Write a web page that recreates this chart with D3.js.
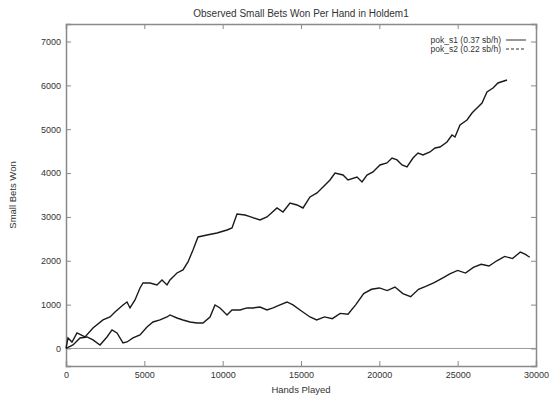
<!DOCTYPE html>
<html><head><meta charset="utf-8">
<script src="https://cdn.jsdelivr.net/npm/d3@7/dist/d3.min.js"></script>
<style>body{margin:0;background:#fff}svg{display:block}text{font-family:"Liberation Sans",Arial,sans-serif;fill:#333}</style>
</head><body><svg id="c" width="551" height="396"></svg>
<script>
const titleText = "Observed Small Bets Won Per Hand in Holdem1";
const xLabel = "Hands Played";
const yLabel = "Small Bets Won";
const xTicks = [0, 5000, 10000, 15000, 20000, 25000, 30000];
const yTicks = [0, 1000, 2000, 3000, 4000, 5000, 6000, 7000];
const seriesNames = ["pok_s1 (0.37 sb/h)", "pok_s2 (0.22 sb/h)"];
const s1Hands = [0,128,383,702,1213,1723,2361,2809,3128,3638,3894,4085,4404,4724,4915,5362,5808,6128,6447,6638,7085,7468,7787,8106,8426,9000,9638,10277,10596,10915,11426,11745,12383,12830,13468,13851,14298,14745,15128,15575,16022,16405,16851,17170,17681,18000,18575,18894,19213,19596,20043,20489,20809,21128,21447,21766,22149,22468,22787,23234,23553,23872,24319,24638,24830,25149,25596,25915,26234,26553,26872,27255,27574,28149];
const s1Won = [0,240,148,353,262,467,650,718,832,992,1060,924,1106,1380,1494,1494,1448,1562,1448,1562,1722,1790,1973,2246,2543,2588,2634,2702,2748,3067,3044,3006,2930,2999,3204,3113,3318,3273,3204,3455,3546,3683,3842,4002,3956,3842,3911,3797,3956,4025,4185,4230,4344,4299,4185,4139,4344,4458,4413,4481,4572,4595,4709,4869,4823,5097,5211,5370,5484,5598,5849,5941,6055,6123];
const s2Hands = [0,447,894,1340,1723,2170,2617,2936,3255,3638,3894,4277,4723,5170,5553,6000,6447,6638,7085,7468,7915,8362,8745,9191,9511,9830,10277,10596,11106,11553,11936,12383,12830,13213,13660,14106,14489,14936,15575,16000,16500,17000,17500,18000,18500,19000,19500,20000,20500,21000,21500,22000,22500,23000,23500,24000,24500,25000,25500,26000,26500,27000,27500,28000,28500,29000,29300,29600];
const s2Won = [0,80,239,262,194,80,262,422,353,125,148,239,308,490,604,650,718,764,695,650,604,581,581,718,992,924,764,878,878,924,924,946,878,924,992,1060,992,878,718,650,720,680,800,780,1000,1250,1350,1380,1320,1400,1250,1180,1350,1420,1500,1600,1700,1780,1720,1850,1920,1880,2000,2100,2050,2200,2150,2080];

const svg = d3.select("#c");
const L = 66, R = 536, T = 24, B = 366;
const x = d3.scaleLinear().domain([0, 30000]).range([L, R]);
const y = d3.scaleLinear().domain([-400, 7400]).range([B, T]);
const frame = "#8a8a8a";

svg.append("text").attr("x", (L+R)/2).attr("y", 17).attr("text-anchor","middle").attr("font-size",10).text(titleText);
svg.append("text").attr("x", (L+R)/2).attr("y", 393).attr("text-anchor","middle").attr("font-size",9.5).text(xLabel);
svg.append("text").attr("transform","translate(16,"+((T+B)/2)+") rotate(-90)").attr("text-anchor","middle").attr("font-size",9.5).text(yLabel);

// zero axis
svg.append("line").attr("x1",L).attr("x2",R).attr("y1",y(0)).attr("y2",y(0)).attr("stroke","#999").attr("stroke-width",1);

// axes
const gx = svg.append("g").attr("transform","translate(0,"+B+")").call(d3.axisBottom(x).tickValues(xTicks).tickSize(-5).tickPadding(6).tickFormat(d3.format("d")));
const gxt = svg.append("g").attr("transform","translate(0,"+T+")").call(d3.axisTop(x).tickValues(xTicks).tickSize(-5).tickFormat(""));
const gy = svg.append("g").attr("transform","translate("+L+",0)").call(d3.axisLeft(y).tickValues(yTicks).tickSize(-5).tickPadding(5).tickFormat(d3.format("d")));
const gyr = svg.append("g").attr("transform","translate("+R+",0)").call(d3.axisRight(y).tickValues(yTicks).tickSize(-5).tickFormat(""));
[gx,gxt,gy,gyr].forEach(g=>{
  g.selectAll(".domain").attr("stroke",frame).attr("stroke-width",1.5);
  g.selectAll(".tick line").attr("stroke",frame).attr("stroke-width",1);
  g.selectAll("text").attr("font-size",9).attr("font-family","Liberation Sans, Arial, sans-serif").attr("fill","#444");
});

const line = d3.line().x(d=>x(d[0])).y(d=>y(d[1]));
const d1 = s1Hands.map((h,i)=>[h,s1Won[i]]);
const d2 = s2Hands.map((h,i)=>[h,s2Won[i]]);
svg.append("path").datum(d1).attr("d",line).attr("fill","none").attr("stroke","#1a1a1a").attr("stroke-width",1.4);
svg.append("path").datum(d2).attr("d",line).attr("fill","none").attr("stroke","#1a1a1a").attr("stroke-width",1.4);

// legend
const lg = svg.append("g");
seriesNames.forEach((n,i)=>{
  const yy = 40 + i*9;
  lg.append("text").attr("x",501).attr("y",yy+3).attr("text-anchor","end").attr("font-size",8.5).attr("fill","#444").text(n);
  lg.append("line").attr("x1",506).attr("x2",526).attr("y1",yy).attr("y2",yy).attr("stroke","#333").attr("stroke-width",1)
    .attr("stroke-dasharray", i===1 ? "3,2" : null);
});
</script></body></html>
